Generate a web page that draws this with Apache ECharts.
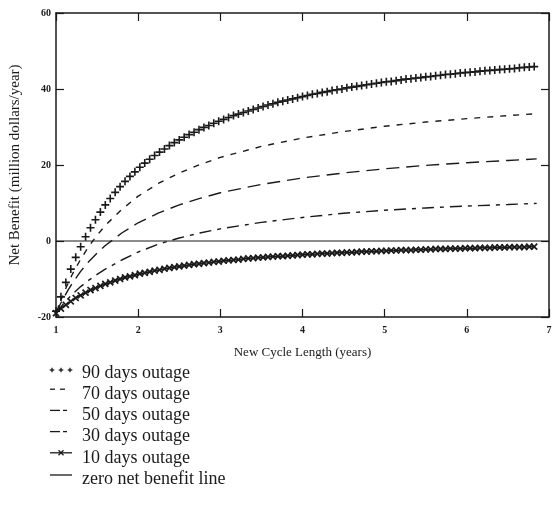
<!DOCTYPE html>
<html>
<head>
<meta charset="utf-8">
<script src="https://cdn.jsdelivr.net/npm/echarts@6/dist/echarts.min.js"></script>
<style>
html, body { margin: 0; padding: 0; background: #fff; }
#chart { width: 555px; height: 507px; }
</style>
</head>
<body>
<div id="chart"></div>
<script>
// dense x grid used by the marker curves (90 and 10 days)
var X_FINE = [
    1.00, 1.06, 1.12, 1.18, 1.24, 1.30, 1.36, 1.42, 1.48, 1.54,
    1.60, 1.66, 1.72, 1.78, 1.84, 1.90, 1.96, 2.02, 2.08, 2.14,
    2.20, 2.26, 2.32, 2.38, 2.44, 2.50, 2.56, 2.62, 2.68, 2.74,
    2.80, 2.86, 2.92, 2.98, 3.04, 3.10, 3.16, 3.22, 3.28, 3.34,
    3.40, 3.46, 3.52, 3.58, 3.64, 3.70, 3.76, 3.82, 3.88, 3.94,
    4.00, 4.06, 4.12, 4.18, 4.24, 4.30, 4.36, 4.42, 4.48, 4.54,
    4.60, 4.66, 4.72, 4.78, 4.84, 4.90, 4.96, 5.02, 5.08, 5.14,
    5.20, 5.26, 5.32, 5.38, 5.44, 5.50, 5.56, 5.62, 5.68, 5.74,
    5.80, 5.86, 5.92, 5.98, 6.04, 6.10, 6.16, 6.22, 6.28, 6.34,
    6.40, 6.46, 6.52, 6.58, 6.64, 6.70, 6.76, 6.82
];
var OUT90 = [
    -18.5, -14.7, -10.9, -7.4, -4.3, -1.5, 1.1, 3.5, 5.6, 7.6,
    9.5, 11.2, 12.8, 14.3, 15.7, 17.0, 18.2, 19.4, 20.5, 21.5,
    22.5, 23.4, 24.2, 25.1, 25.9, 26.6, 27.3, 28.0, 28.6, 29.3,
    29.9, 30.4, 31.0, 31.5, 32.0, 32.5, 33.0, 33.4, 33.8, 34.2,
    34.6, 35.0, 35.4, 35.8, 36.1, 36.5, 36.8, 37.1, 37.4, 37.7,
    38.0, 38.3, 38.6, 38.8, 39.1, 39.3, 39.6, 39.8, 40.0, 40.3,
    40.5, 40.7, 40.9, 41.1, 41.3, 41.5, 41.7, 41.9, 42.0, 42.2,
    42.4, 42.6, 42.7, 42.9, 43.0, 43.2, 43.3, 43.5, 43.6, 43.8,
    43.9, 44.0, 44.2, 44.3, 44.4, 44.5, 44.7, 44.8, 44.9, 45.0,
    45.1, 45.2, 45.3, 45.4, 45.6, 45.7, 45.8, 45.9
];
var OUT10 = [
    -19.0, -17.8, -16.8, -15.9, -15.0, -14.3, -13.6, -12.9, -12.4, -11.8,
    -11.3, -10.9, -10.4, -10.0, -9.6, -9.3, -9.0, -8.6, -8.4, -8.1,
    -7.8, -7.6, -7.3, -7.1, -6.9, -6.7, -6.5, -6.3, -6.1, -6.0,
    -5.8, -5.7, -5.5, -5.4, -5.2, -5.1, -5.0, -4.9, -4.7, -4.6,
    -4.5, -4.4, -4.3, -4.2, -4.1, -4.0, -4.0, -3.9, -3.8, -3.7,
    -3.6, -3.5, -3.5, -3.4, -3.3, -3.3, -3.2, -3.1, -3.1, -3.0,
    -3.0, -2.9, -2.8, -2.8, -2.7, -2.7, -2.6, -2.6, -2.5, -2.5,
    -2.4, -2.4, -2.4, -2.3, -2.3, -2.2, -2.2, -2.1, -2.1, -2.1,
    -2.0, -2.0, -2.0, -1.9, -1.9, -1.9, -1.8, -1.8, -1.8, -1.7,
    -1.7, -1.7, -1.6, -1.6, -1.6, -1.6, -1.5, -1.5
];

// coarser grid for the dashed curves
var X_COARSE = [1, 1.05, 1.1, 1.15, 1.2, 1.3, 1.4, 1.5, 1.6, 1.8, 2.0, 2.25, 2.5, 2.75, 3, 3.5, 4, 4.5, 5, 5.5, 6, 6.5, 6.85];
var OUT70 = [-19.0, -16.1, -13.4, -11.0, -8.7, -4.8, -1.4, 1.5, 4.1, 8.3, 11.8, 15.2, 17.9, 20.1, 22.0, 24.9, 27.1, 28.8, 30.2, 31.3, 32.2, 33.0, 33.5];
var OUT50 = [-19.0, -16.7, -14.7, -12.8, -11.1, -8.0, -5.4, -3.2, -1.2, 2.1, 4.8, 7.4, 9.5, 11.2, 12.7, 14.9, 16.6, 17.9, 19.0, 19.9, 20.6, 21.2, 21.6];
var OUT30 = [-19.0, -17.6, -16.3, -15.1, -14.0, -12.0, -10.3, -8.8, -7.4, -5.0, -2.9, -0.8, 0.8, 2.1, 3.2, 4.9, 6.2, 7.3, 8.1, 8.7, 9.2, 9.6, 9.9];

var ZERO_X = [1, 7];
var ZERO_Y = [0, 0];

var NAMES = [
    '90 days outage',
    '70 days outage',
    '50 days outage',
    '30 days outage',
    '10 days outage',
    'zero net benefit line'
];

var SERIF = 'Liberation Serif';
var INK = '#1a1a1a';
var PLUS = 'path://M4,0H6V4H10V6H6V10H4V6H0V4H4Z';

function pairs(xs, ys) {
    return xs.map(function (x, i) { return [x, ys[i]]; });
}

// hand-drawn legend, the original has tiny glyph-like keys
function legendGraphic() {
    var els = [];
    var top = 373, step = 21.2;
    function seg(x1, y1, x2, y2) {
        els.push({ type: 'line', shape: { x1: x1, y1: y1, x2: x2, y2: y2 }, style: { stroke: INK, lineWidth: 1.3 } });
    }
    function plus(cx, cy, r) { seg(cx - r, cy, cx + r, cy); seg(cx, cy - r, cx, cy + r); }
    function cross(cx, cy, r) { seg(cx - r, cy - r, cx + r, cy + r); seg(cx - r, cy + r, cx + r, cy - r); }
    NAMES.forEach(function (name, i) {
        var y = top + i * step;
        var iy = y - 5;
        if (i === 0) { plus(52, y - 3, 2.3); plus(61, y - 3, 2.3); plus(70, y - 3, 2.3); }
        if (i === 1) { seg(50, iy, 55, iy); seg(60, iy, 65, iy); }
        if (i === 2 || i === 3) { seg(50, iy, 60, iy); seg(63, iy, 67, iy); }
        if (i === 4) { seg(50, iy, 72, iy); cross(61, iy, 2.5); }
        if (i === 5) { seg(50, iy + 1, 72, iy + 1); }
        els.push({
            type: 'text', x: 82, y: y,
            style: { text: name, font: '18px "' + SERIF + '"', fill: INK, verticalAlign: 'middle' }
        });
    });
    return els;
}

var chart = echarts.init(document.getElementById('chart'));

var axisLine = { show: true, onZero: false, lineStyle: { color: INK, width: 1.5 } };
var tickIn = { show: true, inside: true, length: 8, lineStyle: { color: INK, width: 1.2 } };
var tickLabel = { fontFamily: SERIF, fontSize: 10, fontWeight: 'bold', color: INK };

var option = {
    animation: false,
    backgroundColor: '#fff',
    textStyle: { fontFamily: SERIF },
    grid: { left: 52, right: 6, top: 13, bottom: 190, containLabel: false },
    xAxis: [{
        type: 'value', min: 1, max: 7, interval: 1, position: 'bottom',
        axisLine: axisLine, axisTick: tickIn,
        axisLabel: Object.assign({ margin: 8 }, tickLabel),
        splitLine: { show: false },
        name: 'New Cycle Length (years)', nameLocation: 'middle', nameGap: 29,
        nameTextStyle: { fontFamily: SERIF, fontSize: 13, color: INK }
    }, {
        type: 'value', min: 1, max: 7, interval: 1, position: 'top',
        axisLine: axisLine, axisTick: tickIn,
        axisLabel: { show: false }, splitLine: { show: false }
    }],
    yAxis: [{
        type: 'value', min: -20, max: 60, interval: 20, position: 'left',
        axisLine: axisLine, axisTick: tickIn,
        axisLabel: Object.assign({ margin: 5 }, tickLabel),
        splitLine: { show: false },
        name: 'Net Benefit (million dollars/year)', nameLocation: 'middle', nameGap: 33,
        nameTextStyle: { fontFamily: SERIF, fontSize: 15, color: INK }
    }, {
        type: 'value', min: -20, max: 60, interval: 20, position: 'right',
        axisLine: axisLine, axisTick: tickIn,
        axisLabel: { show: false }, splitLine: { show: false }
    }],
    series: [{
        name: NAMES[0], type: 'line', data: pairs(X_FINE, OUT90),
        symbol: PLUS, symbolSize: 8, showSymbol: true, showAllSymbol: true,
        itemStyle: { color: INK }, lineStyle: { width: 0, opacity: 0 }, z: 5
    }, {
        name: NAMES[1], type: 'line', data: pairs(X_COARSE, OUT70), symbol: 'none',
        lineStyle: { color: INK, width: 1.4, type: [6, 7] }
    }, {
        name: NAMES[2], type: 'line', data: pairs(X_COARSE, OUT50), symbol: 'none',
        lineStyle: { color: INK, width: 1.4, type: [13, 7] }
    }, {
        name: NAMES[3], type: 'line', data: pairs(X_COARSE, OUT30), symbol: 'none',
        lineStyle: { color: INK, width: 1.4, type: [12, 6, 4, 6] }
    }, {
        name: NAMES[4], type: 'line', data: pairs(X_FINE, OUT10),
        symbol: PLUS, symbolRotate: 45, symbolSize: 8.5, showSymbol: true, showAllSymbol: true,
        itemStyle: { color: INK }, lineStyle: { color: INK, width: 1.5 }, z: 5
    }, {
        name: NAMES[5], type: 'line', data: pairs(ZERO_X, ZERO_Y), symbol: 'none',
        lineStyle: { color: INK, width: 1.2 }
    }],
    graphic: legendGraphic()
};

chart.setOption(option);
</script>
</body>
</html>
